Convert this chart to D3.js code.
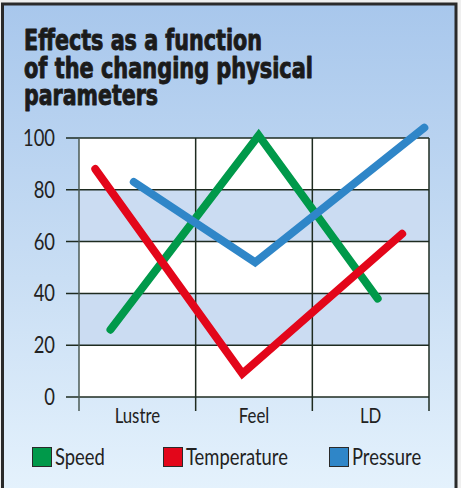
<!DOCTYPE html>
<html><head><meta charset="utf-8">
<script src="https://cdn.jsdelivr.net/npm/d3@7"></script>
<style>html,body{margin:0;padding:0;background:#efefef;}svg{display:block;}</style>
</head><body>
<script>
// ---- data ----
const titleLines = ["Effects as a function", "of the changing physical", "parameters"];
const categories = ["Lustre", "Feel", "LD"];
const yTicks = [0, 20, 40, 60, 80, 100];
const seriesNames = ["Speed", "Temperature", "Pressure"];
const seriesColors = ["#00994a", "#e3061a", "#2f86c8"];
// x given as position along the category axis (0 = left edge, 3 = right edge)
const speedX = [0.27, 1.54, 2.56];
const speedY = [26, 101, 38];
const temperatureX = [0.14, 1.40, 2.77];
const temperatureY = [88, 9, 63];
const pressureX = [0.47, 1.51, 2.96];
const pressureY = [83, 52, 104];

const series = [
  {name: seriesNames[0], color: seriesColors[0], xs: speedX, ys: speedY},
  {name: seriesNames[1], color: seriesColors[1], xs: temperatureX, ys: temperatureY},
  {name: seriesNames[2], color: seriesColors[2], xs: pressureX, ys: pressureY}
];

// ---- layout ----
const W = 461, H = 488;
const plot = {left: 79, right: 429, top: 138, bottom: 397};
const svg = d3.select("body").append("svg").attr("width", W).attr("height", H);

const defs = svg.append("defs");
const grad = defs.append("linearGradient").attr("id", "bg").attr("x1", 0).attr("y1", 0).attr("x2", 0).attr("y2", 1);
grad.append("stop").attr("offset", 0).attr("stop-color", "#a8c7ec");
grad.append("stop").attr("offset", 0.55).attr("stop-color", "#c9def4");
grad.append("stop").attr("offset", 1).attr("stop-color", "#e6f3fd");

svg.append("rect").attr("x", 2.5).attr("y", 4).attr("width", 453.5).attr("height", H + 10)
  .attr("fill", "url(#bg)").attr("stroke", "#2a2a2a").attr("stroke-width", 3);

// title
const titleW = [238, 289, 134];
const titleBase = [49.5, 77.5, 104.5];
svg.selectAll("text.title").data(titleLines).enter().append("text")
  .attr("class", "title")
  .attr("x", 24).attr("y", (d, i) => titleBase[i])
  .attr("textLength", (d, i) => titleW[i]).attr("lengthAdjust", "spacingAndGlyphs")
  .style("font-family", "'DejaVu Sans', sans-serif").style("font-weight", "bold")
  .style("font-stretch", "condensed").style("font-size", "27.5px")
  .attr("fill", "#1b1b1b").attr("stroke", "#1b1b1b").attr("stroke-width", 0.9)
  .attr("stroke-linejoin", "round")
  .text(d => d);

// scales
const y = d3.scaleLinear().domain([0, 100]).range([plot.bottom, plot.top]);
const x = d3.scaleLinear().domain([0, 3]).range([plot.left, plot.right]);
const xb = d3.scaleBand().domain(categories).range([plot.left, plot.right]);

// plot background + bands
svg.append("rect").attr("x", plot.left).attr("y", plot.top)
  .attr("width", plot.right - plot.left).attr("height", plot.bottom - plot.top).attr("fill", "#ffffff");
const bands = [[20, 40], [60, 80]];
svg.selectAll("rect.band").data(bands).enter().append("rect").attr("class", "band")
  .attr("x", plot.left).attr("width", plot.right - plot.left)
  .attr("y", d => y(d[1])).attr("height", d => y(d[0]) - y(d[1]))
  .attr("fill", "#cbdcf2");

// grid
const gridColor = "#1e2b20";
svg.selectAll("line.h").data(yTicks).enter().append("line")
  .attr("x1", 66).attr("x2", plot.right)
  .attr("y1", d => y(d)).attr("y2", d => y(d))
  .attr("stroke", gridColor).attr("stroke-width", 1.5);
const vlines = d3.range(categories.length + 1);
svg.selectAll("line.v").data(vlines).enter().append("line")
  .attr("x1", d => x(d)).attr("x2", d => x(d))
  .attr("y1", plot.top).attr("y2", 411)
  .attr("stroke", (d, i) => i === 0 ? "#4a5a55" : gridColor).attr("stroke-width", 1.5);

// y tick labels
const bodyFont = "Lato, 'Open Sans', sans-serif";
svg.selectAll("text.ytick").data(yTicks).enter().append("text")
  .attr("transform", d => `translate(55,${y(d) + 8}) scale(0.8,1)`)
  .attr("text-anchor", "end")
  .style("font-family", bodyFont).style("font-size", "23px").attr("fill", "#222")
  .text(d => d);

// x labels
svg.selectAll("text.xlab").data(categories).enter().append("text")
  .attr("transform", d => `translate(${xb(d) + xb.bandwidth() / 2},423) scale(0.8,1)`)
  .attr("text-anchor", "middle")
  .style("font-family", bodyFont).style("font-size", "21px").attr("fill", "#222")
  .text(d => d);

// lines
const line = d3.line().x(d => x(d[0])).y(d => y(d[1]));
svg.selectAll("path.series").data(series).enter().append("path")
  .attr("d", s => line(s.xs.map((v, i) => [v, s.ys[i]])))
  .attr("fill", "none").attr("stroke", s => s.color)
  .attr("stroke-width", 8).attr("stroke-linecap", "round").attr("stroke-linejoin", "miter");

// legend
const legX = [32, 163, 329];
const leg = svg.selectAll("g.leg").data(series).enter().append("g")
  .attr("transform", (d, i) => `translate(${legX[i]},447)`);
leg.append("rect").attr("x", 0.5).attr("y", 0.5).attr("width", 19).attr("height", 19)
  .attr("fill", d => d.color).attr("stroke", "#2a2a2a").attr("stroke-width", 1);
leg.append("text")
  .attr("transform", "translate(23,18) scale(0.8,1)")
  .style("font-family", bodyFont).style("font-size", "23px").attr("fill", "#222")
  .text(d => d.name);
</script>
</body></html>
